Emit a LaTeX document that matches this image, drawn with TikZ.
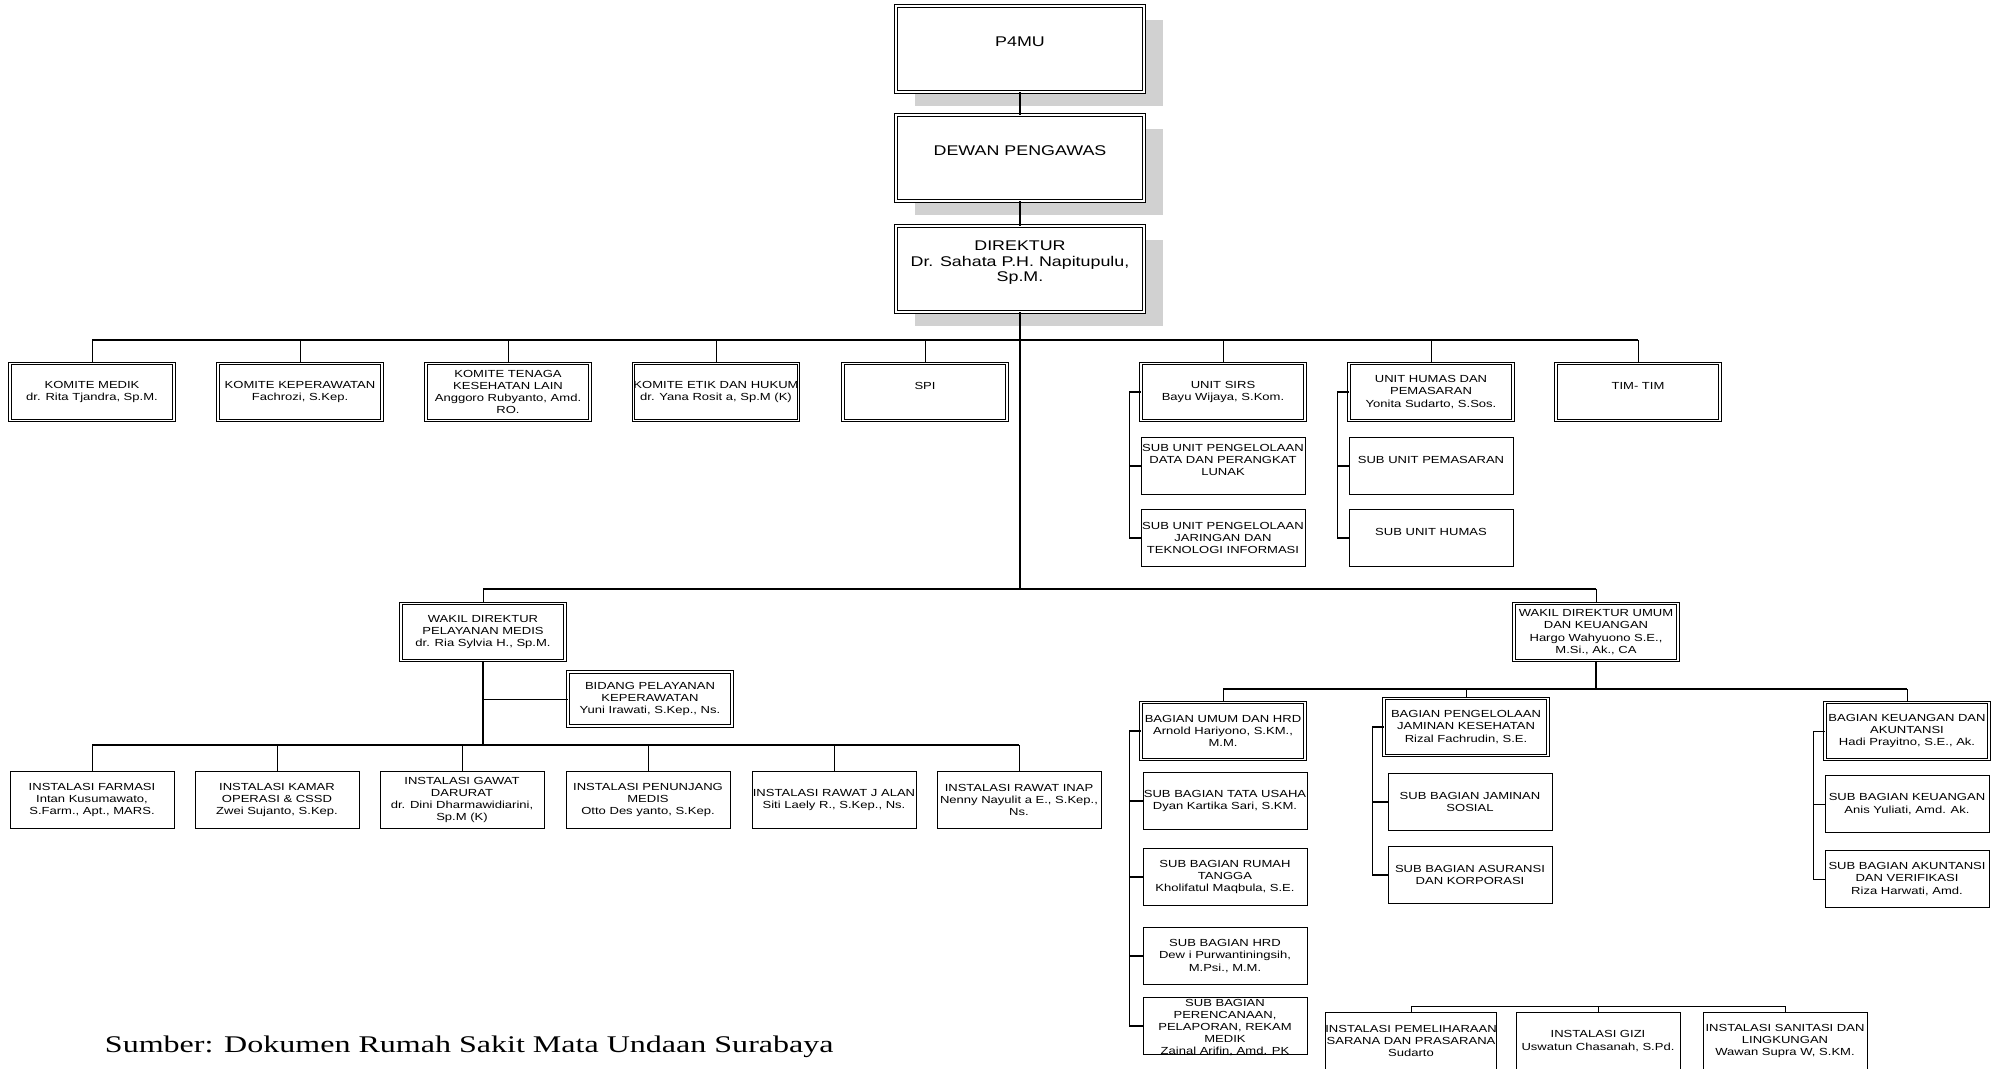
\documentclass[tikz,border=0pt]{standalone}
\usepackage{fontspec}
\setmainfont{Liberation Sans}[FakeStretch=1.27]
\newfontfamily\srcfont{Liberation Serif}[FakeStretch=1.34]
\usetikzlibrary{positioning}
\usetikzlibrary{shadows}
\newcommand{\smalltxt}{\fontsize{7.3}{8.7}\selectfont}
\newcommand{\bigtxt}{\fontsize{10}{11}\selectfont}

\begin{document}
\begin{tikzpicture}[x=0.025cm,y=-0.025cm,
    unit/.style={draw,line width=0.5pt,fill=white,align=center,inner sep=0pt,
      minimum width=4.1cm,minimum height=1.43cm,font=\smalltxt},
    chief/.style={unit,double,double distance=1.2pt},
    topbox/.style={chief,minimum width=6.2cm,minimum height=2.15cm,font=\bigtxt,
      drop shadow={shadow xshift=0.475cm,shadow yshift=-0.35cm,fill=black!18,opacity=1}},
    link/.style={line width=0.6pt},
    bus/.style={line width=0.9pt},
    trunk/.style={line width=1.3pt},
    bracket/.style={line width=0.9pt}]

  \useasboundingbox (0,0) rectangle (2002,1068);

  \node [topbox] (p4mu) at (1020,49) {P4MU\\[0pt]};
  \node [topbox] (dewan) at (1020,158) {DEWAN PENGAWAS\\[0pt]};
  \node [topbox] (direktur) at (1020,269) {DIREKTUR\\Dr. Sahata P.H. Napitupulu,\\Sp.M.\\[0pt]};

  \path [draw,trunk] (p4mu) edge (dewan) (dewan) edge (direktur);

  \coordinate (bus2) at (1020,340);
  \coordinate (buswak) at (1020,589);
  \coordinate (busmed) at (483,745);
  \coordinate (busum) at (1596,689);
  \coordinate (businst) at (1596,1006);

  \node [chief] (komedik) at (92,392) {KOMITE MEDIK\\dr. Rita Tjandra, Sp.M.};
  \node [chief] (kokep) at (300,392) {KOMITE KEPERAWATAN\\Fachrozi, S.Kep.};
  \node [chief] (kotenaga) at (508,392) {KOMITE TENAGA\\KESEHATAN LAIN\\Anggoro Rubyanto, Amd.\\RO.};
  \node [chief] (koetik) at (716,392) {KOMITE ETIK DAN  HUKUM\\dr. Yana Rosit a, Sp.M (K)};
  \node [chief] (spi) at (925,392) {SPI\\[0pt]};
  \node [chief] (sirs) at (1223,392) {UNIT SIRS\\Bayu Wijaya, S.Kom.};
  \node [chief] (humas) at (1431,392) {UNIT HUMAS DAN\\PEMASARAN\\Yonita Sudarto, S.Sos.};
  \node [chief] (timtim) at (1638,392) {TIM- TIM\\[0pt]};

  \node [unit] (sirsdata) at (1223,466) {SUB UNIT PENGELOLAAN\\DATA DAN PERANGKAT\\LUNAK\\[0pt]};
  \node [unit] (sirsti) at (1223,538) {SUB UNIT PENGELOLAAN\\JARINGAN DAN\\TEKNOLOGI INFORMASI};
  \node [unit] (humaspem) at (1431,466) {SUB UNIT PEMASARAN\\[0pt]};
  \node [unit] (humashum) at (1431,538) {SUB UNIT HUMAS\\[0pt]};

  \draw [trunk] (direktur) -- (buswak);
  \draw [bus] (komedik.north |- bus2) -- (timtim.north |- bus2);
  \foreach \n in {komedik,kokep,kotenaga,koetik,spi,sirs,humas,timtim}
    \draw [link] (\n.north |- bus2) -- (\n.north);

  \draw [bracket] (sirs.west) -- ++(-11,0) |- (sirsti.west);
  \draw [bracket] (sirsdata.west) -- ++(-11,0);
  \draw [bracket] (humas.west) -- ++(-11,0) |- (humashum.west);
  \draw [bracket] (humaspem.west) -- ++(-11,0);

  \node [chief] (wakmed) at (483,632) {WAKIL DIREKTUR\\PELAYANAN MEDIS\\dr. Ria Sylvia H., Sp.M.};
  \node [chief] (wakum) at (1596,632) {WAKIL DIREKTUR UMUM\\DAN KEUANGAN\\Hargo Wahyuono S.E.,\\M.Si., Ak., CA};
  \node [chief,minimum height=1.35cm] (bidang) at (650,699) {BIDANG PELAYANAN\\KEPERAWATAN\\Yuni Irawati, S.Kep., Ns.};

  \draw [bus] (wakmed.north |- buswak) -- (wakum.north |- buswak);
  \draw [link] (wakmed.north |- buswak) -- (wakmed.north);
  \draw [link] (wakum.north |- buswak) -- (wakum.north);
  \draw [trunk] (wakmed) -- (busmed);
  \draw [link] (wakmed.south |- bidang.west) -- (bidang.west);

  \node [unit] (farmasi) at (92,800) {INSTALASI  FARMASI\\Intan Kusumawato,\\S.Farm., Apt., MARS.};
  \node [unit] (kamarop) at (277,800) {INSTALASI  KAMAR\\OPERASI \& CSSD\\Zwei Sujanto, S.Kep.};
  \node [unit] (igd) at (462,800) {INSTALASI GAWAT\\DARURAT\\dr. Dini Dharmawidiarini,\\Sp.M (K)};
  \node [unit] (penunjang) at (648,800) {INSTALASI PENUNJANG\\MEDIS\\Otto Des yanto, S.Kep.};
  \node [unit] (rajal) at (834,800) {INSTALASI RAWAT J ALAN\\Siti Laely R., S.Kep., Ns.};
  \node [unit] (ranap) at (1019,800) {INSTALASI RAWAT INAP\\Nenny Nayulit a E., S.Kep.,\\Ns.};

  \draw [bus] (farmasi.north |- busmed) -- (ranap.north |- busmed);
  \foreach \n in {farmasi,kamarop,igd,penunjang,rajal,ranap}
    \draw [link] (\n.north |- busmed) -- (\n.north);

  \node [chief] (bumum) at (1223,731) {BAGIAN UMUM DAN HRD\\Arnold Hariyono, S.KM.,\\M.M.};
  \node [unit] (tatausaha) at (1225,801) {SUB BAGIAN TATA USAHA\\Dyan Kartika Sari, S.KM.};
  \node [unit] (rumahtangga) at (1225,877) {SUB BAGIAN RUMAH\\TANGGA\\Kholifatul Maqbula, S.E.};
  \node [unit] (hrd) at (1225,956) {SUB BAGIAN HRD\\Dew i Purwantiningsih,\\M.Psi., M.M.};
  \node [unit] (perenc) at (1225,1026) {\smash{\raisebox{-0.1cm}{\parbox{4cm}{\centering
    SUB BAGIAN\\PERENCANAAN,\\PELAPORAN, REKAM\\MEDIK\\Zainal Arifin, Amd. PK}}}};

  \node [chief] (bjamkes) at (1466,727) {BAGIAN  PENGELOLAAN\\JAMINAN KESEHATAN\\Rizal Fachrudin, S.E.};
  \node [unit] (jamsos) at (1470,802) {SUB BAGIAN JAMINAN\\SOSIAL};
  \node [unit] (asuransi) at (1470,875) {SUB BAGIAN ASURANSI\\DAN KORPORASI};

  \node [chief] (bkeu) at (1907,731) {BAGIAN KEUANGAN DAN\\AKUNTANSI\\Hadi Prayitno, S.E., Ak.};
  \node [unit] (subkeu) at (1907,804) {SUB BAGIAN KEUANGAN\\Anis Yuliati, Amd. Ak.};
  \node [unit] (akuntansi) at (1907,879) {SUB BAGIAN AKUNTANSI\\DAN VERIFIKASI\\Riza Harwati, Amd.};

  \draw [trunk] (wakum) -- (busum);
  \draw [line width=0.5pt,double,double distance=2.2pt] (busum) -- (businst);
  \draw [bus] (bumum.north |- busum) -- (bkeu.north |- busum);
  \foreach \n in {bumum,bjamkes,bkeu}
    \draw [link] (\n.north |- busum) -- (\n.north);

  \draw [bracket] (bumum.west) -- ++(-11,0) |- (perenc.west);
  \foreach \n in {tatausaha,rumahtangga,hrd}
    \draw [bracket] (\n.west) -- (\n.west -| bumum.west) -- ++(-11,0);
  \draw [bracket] (bjamkes.west) -- ++(-11,0) |- (asuransi.west);
  \draw [bracket] (jamsos.west) -- ++(-15,0);
  \draw [link] (bkeu.west) -- ++(-11,0) |- (akuntansi.west);
  \draw [link] (subkeu.west) -- ++(-11,0);

  \node [unit] (pemeliharaan) at (1411,1041) {INSTALASI PEMELIHARAAN\\SARANA DAN PRASARANA\\Sudarto};
  \node [unit] (gizi) at (1598,1041) {INSTALASI GIZI\\Uswatun Chasanah, S.Pd.};
  \node [unit] (sanitasi) at (1785,1041) {INSTALASI SANITASI DAN\\LINGKUNGAN\\Wawan Supra W, S.KM.};

  \draw [link] (pemeliharaan.north |- businst) -- (sanitasi.north |- businst);
  \foreach \n in {pemeliharaan,gizi,sanitasi}
    \draw [link] (\n.north |- businst) -- (\n.north);

  \node [anchor=west,font=\srcfont\fontsize{17}{20}\selectfont] (sumber) at (100,1047)
    {Sumber: Dokumen Rumah Sakit Mata Undaan Surabaya};

\end{tikzpicture}
\end{document}
